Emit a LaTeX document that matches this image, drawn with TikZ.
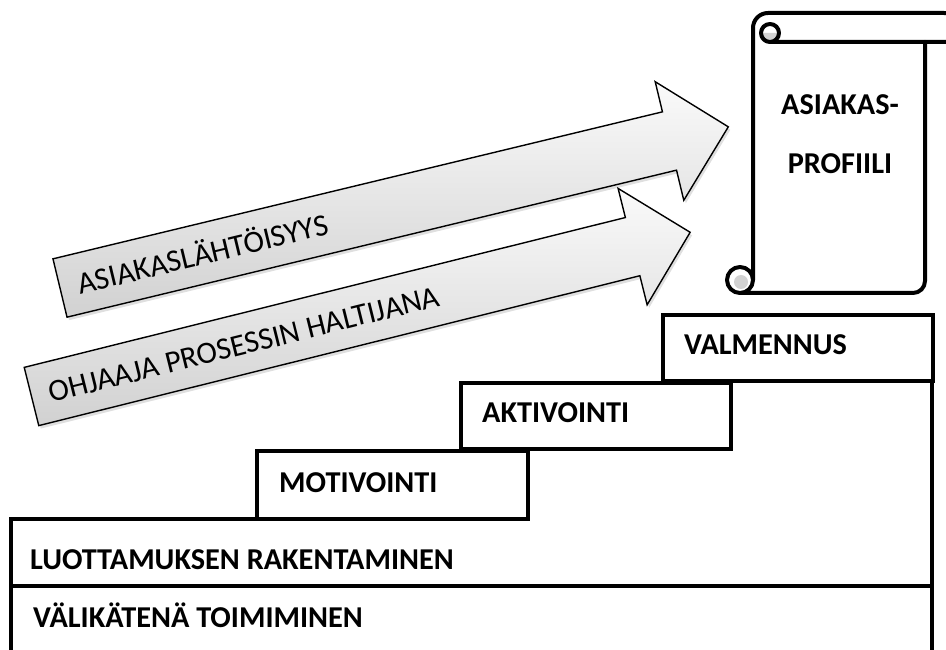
\documentclass[tikz,border=0pt]{standalone}
\usepackage{fontspec}
\setmainfont{Carlito}
\usetikzlibrary{shadows}
\begin{document}
\begin{tikzpicture}[x=1pt,y=1pt,
  stepline/.style={line width=4pt, line join=miter},
  stepbox/.style={stepline, fill=white},
  lbl/.style={font=\fontsize{30.3}{36}\selectfont\bfseries, anchor=base west, inner sep=0pt},
  arrowbody/.style={draw=black, line width=1.4pt, line join=miter, top color=gray!4, bottom color=gray!36, drop shadow={opacity=0.25, shadow xshift=2pt, shadow yshift=-3pt}},
  arrowtext/.style={font=\fontsize{31}{37}\selectfont, anchor=base west, inner sep=0pt, transform shape},
  scrollline/.style={line width=4pt, line join=round, line cap=round},
  curlfill/.style={fill=gray!35}
]
\useasboundingbox (0,0) rectangle (946,649);
\begin{scope}
\clip (0,0) rectangle (946,649);
% arrows
\begin{scope}[shift={(31.5,252.5)}, rotate=14.0]
  \path[arrowbody] (0,30) -- (619.5,30) -- (619.5,60) -- (678.8,0) -- (619.5,-60) -- (619.5,-30) -- (0,-30) -- cycle;
  \node[arrowtext] (t2) at (18,-11) {OHJAAJA PROSESSIN HALTIJANA};
\end{scope}
\begin{scope}[shift={(60,361)}, rotate=13.56]
  \path[arrowbody] (0,30) -- (627,30) -- (627,61) -- (687.5,0) -- (627,-61) -- (627,-30) -- (0,-30) -- cycle;
  \node[arrowtext] (t1) at (18,-11) {ASIAKASLÄHTÖISYYS};
\end{scope}
% scroll
\fill[white] (753,621) -- (753,356) -- (925,356) -- (925,621) -- cycle;
\fill[white] (768,636) -- (944,636) -- (944,607) -- (768,607) -- cycle;
\draw[scrollline] (753,369) -- (753,621) arc[start angle=180, end angle=90, radius=15] -- (944,636) arc[start angle=90, end angle=-90, radius=14.5] -- (770,607);
\fill[curlfill] (761,616) arc[start angle=180, end angle=360, radius=9] -- cycle;
\draw[scrollline] (770,616) circle[radius=9];
\draw[scrollline] (925,607) -- (925,368) arc[start angle=0, end angle=-90, radius=12] -- (740,356);
\draw[scrollline, fill=white] (740,369) circle[radius=13];
\fill[curlfill] (741,367) circle[radius=7];
\node[lbl, anchor=base] (s1) at (840,534) {ASIAKAS-};
\node[lbl, anchor=base] (s2) at (840,475) {PROFIILI};
% steps
\draw[stepline] (11,-10) -- (11,130) -- (257,130);
\draw[stepline] (11,63) -- (932,63);
\draw[stepline] (932,-10) -- (932,268);
\draw[stepbox] (257,130) rectangle (528,198);
\draw[stepbox] (461,200) rectangle (731,266);
\draw[stepbox] (663,268) rectangle (933,334);
\node[lbl] (valm) at (684,294) {VALMENNUS};
\node[lbl] (akt) at (482,226) {AKTIVOINTI};
\node[lbl] (mot) at (279,157) {MOTIVOINTI};
\node[lbl] (luot) at (30,80) {LUOTTAMUKSEN RAKENTAMINEN};
\node[lbl] (vali) at (33,22) {VÄLIKÄTENÄ TOIMIMINEN};
\end{scope}
\end{tikzpicture}
\end{document}
